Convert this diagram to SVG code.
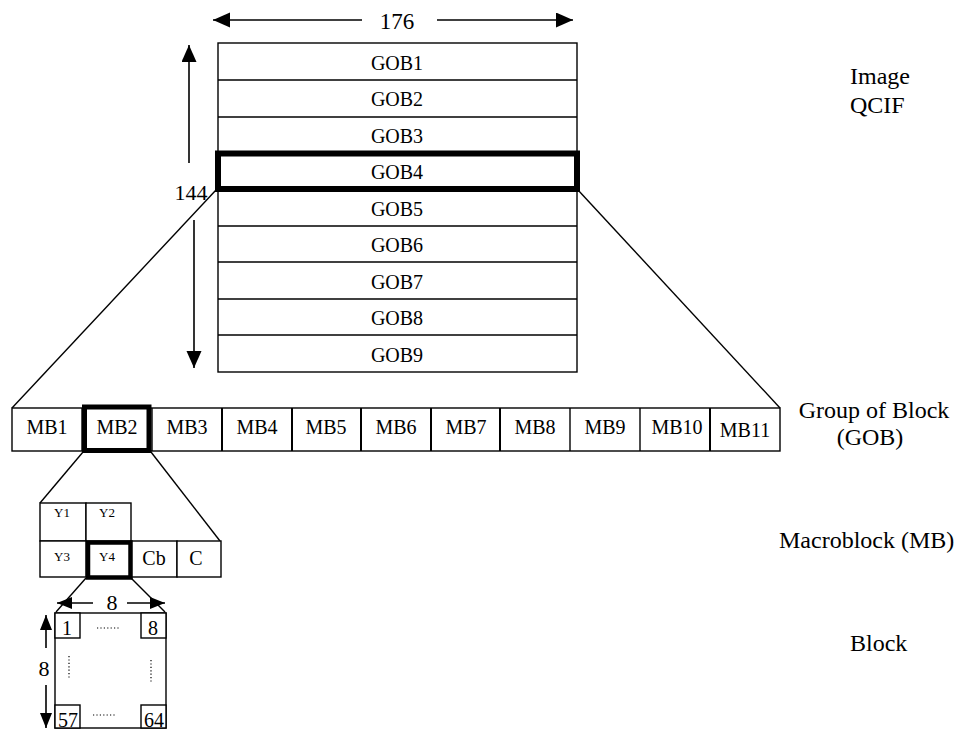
<svg xmlns="http://www.w3.org/2000/svg" width="968" height="731" viewBox="0 0 968 731">
<defs>
<marker id="ah" markerUnits="userSpaceOnUse" markerWidth="18" markerHeight="16" refX="17" refY="7.5" orient="auto"><path d="M0,0 L17,7.5 L0,15 z" fill="#000"/></marker>
<marker id="ahs" markerUnits="userSpaceOnUse" markerWidth="16" markerHeight="13" refX="15" refY="6" orient="auto"><path d="M0,0 L15,6 L0,12 z" fill="#000"/></marker>
</defs>
<style>
text{font-family:'Liberation Serif','DejaVu Serif',serif;fill:#000}
.box{fill:#fff;stroke:#000;stroke-width:1.4}
.thick{fill:none;stroke:#000}
.ln{stroke:#000;stroke-width:1.4;fill:none}
.dim{stroke:#000;stroke-width:1.6;fill:none}
.dots{stroke:#000;stroke-width:1.2;stroke-dasharray:1.2 2.2;fill:none}
.g{font-size:20px;text-anchor:middle}
.mb{font-size:20px;text-anchor:middle}
.y{font-size:13px;text-anchor:middle}
.lab{font-size:24px}
.num{font-size:22px;text-anchor:middle}
</style>
<rect width="968" height="731" fill="#fff"/>

<g id="connectors">
<line class="ln" x1="216" y1="190" x2="12" y2="408"/>
<line class="ln" x1="578" y1="190" x2="780" y2="408"/>
<line class="ln" x1="83" y1="452" x2="40" y2="503"/>
<line class="ln" x1="151" y1="452" x2="220" y2="541"/>
<line class="ln" x1="86" y1="578" x2="56" y2="612"/>
<line class="ln" x1="131" y1="578" x2="165" y2="612"/>
</g>

<g font-family="'Liberation Serif', 'DejaVu Serif', serif">
<g id="dim-176">
<line class="dim" x1="362" y1="20" x2="213" y2="20" marker-end="url(#ah)"/>
<line class="dim" x1="437" y1="20" x2="573" y2="20" marker-end="url(#ah)"/>
<text class="num" x="397" y="29" style="font-size:23px">176</text>
</g>
<g id="dim-144">
<line class="dim" x1="189" y1="163" x2="189" y2="45" marker-end="url(#ah)"/>
<line class="dim" x1="194" y1="220" x2="194" y2="368" marker-end="url(#ah)"/>
<text class="num" x="191" y="200">144</text>
</g>

<g id="image-qcif">
<rect class="box" x="218" y="43" width="359" height="329"/>
<line class="ln" x1="218" y1="80" x2="577" y2="80"/>
<line class="ln" x1="218" y1="117" x2="577" y2="117"/>
<line class="ln" x1="218" y1="226" x2="577" y2="226"/>
<line class="ln" x1="218" y1="262" x2="577" y2="262"/>
<line class="ln" x1="218" y1="299" x2="577" y2="299"/>
<line class="ln" x1="218" y1="335" x2="577" y2="335"/>
<text class="g" x="397" y="70">GOB1</text>
<text class="g" x="397" y="106">GOB2</text>
<text class="g" x="397" y="143">GOB3</text>
<text class="g" x="397" y="179">GOB4</text>
<text class="g" x="397" y="216">GOB5</text>
<text class="g" x="397" y="252">GOB6</text>
<text class="g" x="397" y="289">GOB7</text>
<text class="g" x="397" y="325">GOB8</text>
<text class="g" x="397" y="362">GOB9</text>
<rect class="thick" x="218" y="153.5" width="359" height="35.5" stroke-width="6"/>
</g>

<g id="gob-row">
<rect class="box" x="12" y="408" width="768" height="43"/>
<line class="ln" x1="82" y1="408" x2="82" y2="451"/>
<line class="ln" x1="152" y1="408" x2="152" y2="451"/>
<line class="ln" x1="222" y1="408" x2="222" y2="451" style="stroke-width:2"/>
<line class="ln" x1="292" y1="408" x2="292" y2="451" style="stroke-width:2"/>
<line class="ln" x1="361" y1="408" x2="361" y2="451" style="stroke-width:2"/>
<line class="ln" x1="431" y1="408" x2="431" y2="451" style="stroke-width:2"/>
<line class="ln" x1="500" y1="408" x2="500" y2="451" style="stroke-width:2"/>
<line class="ln" x1="570" y1="408" x2="570" y2="451"/>
<line class="ln" x1="640" y1="408" x2="640" y2="451"/>
<line class="ln" x1="710" y1="408" x2="710" y2="451" style="stroke-width:2"/>
<text class="mb" x="47" y="434">MB1</text>
<text class="mb" x="117" y="434">MB2</text>
<text class="mb" x="187" y="434">MB3</text>
<text class="mb" x="257" y="434">MB4</text>
<text class="mb" x="326" y="434">MB5</text>
<text class="mb" x="396" y="434">MB6</text>
<text class="mb" x="466" y="434">MB7</text>
<text class="mb" x="535" y="434">MB8</text>
<text class="mb" x="605" y="434">MB9</text>
<text class="mb" x="677" y="434">MB10</text>
<text class="mb" x="745" y="437">MB11</text>
<rect class="thick" x="84.5" y="407" width="64.5" height="43.5" stroke-width="5"/>
</g>

<g id="macroblock">
<rect class="box" x="40" y="503" width="46" height="38"/>
<rect class="box" x="86" y="503" width="45" height="38"/>
<rect class="box" x="40" y="541" width="46" height="36"/>
<rect class="box" x="131" y="541" width="46" height="36"/>
<rect class="box" x="177" y="541" width="44" height="36"/>
<rect class="thick" x="88" y="542.5" width="42.5" height="35" stroke-width="4.5"/>
<text class="y" x="62" y="517">Y1</text>
<text class="y" x="107" y="517">Y2</text>
<text class="y" x="62" y="561">Y3</text>
<text class="y" x="107" y="561">Y4</text>
<text class="mb" x="154" y="565">Cb</text>
<text class="mb" x="196" y="565">C</text>
</g>

<g id="block">
<rect class="box" x="55" y="613" width="111" height="115"/>
<rect class="box" x="55" y="613" width="25" height="25"/>
<rect class="box" x="141" y="613" width="25" height="25"/>
<rect class="box" x="55" y="705" width="25" height="23"/>
<rect class="box" x="141" y="705" width="25" height="23"/>
<text class="mb" x="67" y="635">1</text>
<text class="mb" x="153" y="635">8</text>
<text class="mb" x="68" y="727">57</text>
<text class="mb" x="154" y="727">64</text>
<line class="dots" x1="97" y1="628" x2="120" y2="628"/>
<line class="dots" x1="93" y1="715" x2="116" y2="715"/>
<line class="dots" x1="69" y1="656" x2="69" y2="678"/>
<line class="dots" x1="151" y1="660" x2="151" y2="682"/>
</g>

<g id="dim-8">
<line class="dim" x1="93" y1="603" x2="57" y2="603" marker-end="url(#ahs)"/>
<line class="dim" x1="127" y1="603" x2="165" y2="603" marker-end="url(#ahs)"/>
<text class="num" x="112" y="610">8</text>
<line class="dim" x1="46" y1="648" x2="46" y2="615" marker-end="url(#ahs)"/>
<line class="dim" x1="46" y1="685" x2="46" y2="728" marker-end="url(#ahs)"/>
<text class="num" x="44" y="676">8</text>
</g>

<g id="labels">
<text class="lab" x="850" y="84">Image</text>
<text class="lab" x="850" y="113">QCIF</text>
<text class="lab" x="874" y="418" text-anchor="middle">Group of Block</text>
<text class="lab" x="870" y="445" text-anchor="middle">(GOB)</text>
<text class="lab" x="779" y="548">Macroblock (MB)</text>
<text class="lab" x="850" y="651">Block</text>
</g>
</g>
</svg>
